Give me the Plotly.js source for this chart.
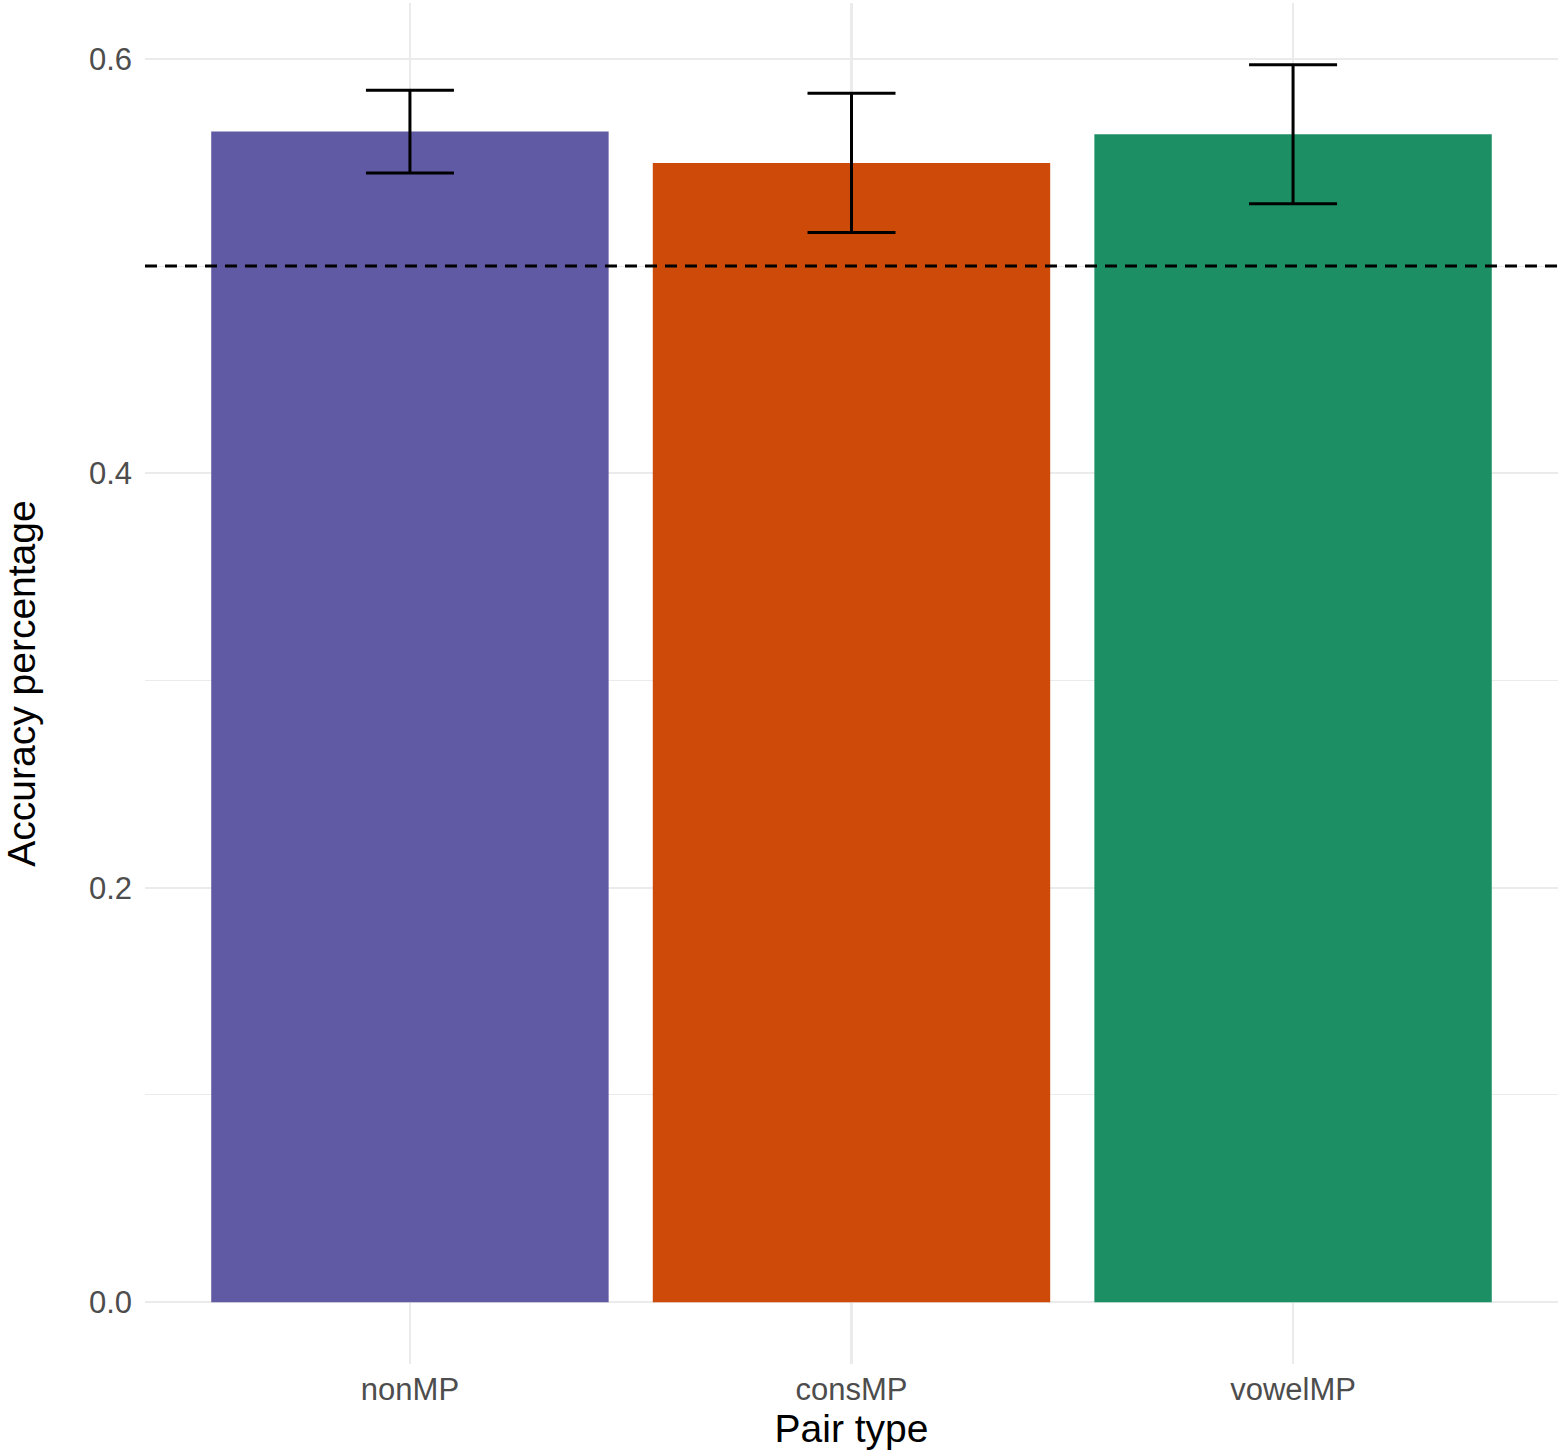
<!DOCTYPE html>
<html>
<head>
<meta charset="utf-8">
<script src="https://cdn.plot.ly/plotly-3.0.1.min.js"></script>
<style>
  html, body { margin: 0; padding: 0; background: #fff; }
  #chart { width: 1559px; height: 1452px; }
</style>
</head>
<body>
<div id="chart"></div>
<script>
var pairTypes = ["nonMP", "consMP", "vowelMP"];
var accuracy = [0.5649, 0.5498, 0.5636];
var errors = [0.0200, 0.0336, 0.0335];
var barColors = ["#6059a4", "#cd4a08", "#1d8f65"];
var chanceLevel = 0.5;
var yTicks = [0, 0.2, 0.4, 0.6];
var yTickText = ["0.0", "0.2", "0.4", "0.6"];

// ggplot style 5% expansion of the y range
var yMax = Math.max.apply(null, accuracy.map(function (d, i) { return d + errors[i]; }));
var pad = yMax * 0.05;

var dataset = [
    {
        x: pairTypes,
        y: accuracy,
        type: "bar",
        width: 0.9,
        marker: { color: barColors },
        error_y: {
            type: "data",
            array: errors,
            visible: true,
            color: "#000000",
            thickness: 3,
            width: 44,
        },
        hoverinfo: "x+y",
    },
];

var layout = {
    width: 1559,
    height: 1452,
    margin: { l: 145, r: 1, t: 3, b: 88 },
    paper_bgcolor: "#ffffff",
    plot_bgcolor: "#ffffff",
    font: { family: "Liberation Sans, Arial, sans-serif", color: "#4d4d4d" },
    showlegend: false,
    xaxis: {
        type: "category",
        range: [-0.6, 2.6],
        showgrid: true,
        gridcolor: "#ebebeb",
        gridwidth: 2.2,
        zeroline: false,
        showline: false,
        ticks: "",
        ticklabelstandoff: 4,
        tickfont: { size: 31, color: "#4d4d4d" },
        title: {
            text: "Pair type",
            font: { size: 39, color: "#000000" },
            standoff: 8,
        },
    },
    yaxis: {
        range: [-pad, yMax + pad],
        tickvals: yTicks,
        ticktext: yTickText,
        showgrid: true,
        gridcolor: "#ebebeb",
        gridwidth: 2.2,
        minor: { dtick: 0.1, showgrid: true, gridcolor: "#ebebeb", gridwidth: 1.1 },
        zeroline: false,
        showline: false,
        ticks: "",
        ticklabelstandoff: 12,
        tickfont: { size: 31, color: "#4d4d4d" },
        title: {
            text: "Accuracy percentage",
            font: { size: 39, color: "#000000" },
            standoff: 45,
        },
    },
    shapes: [
        {
            type: "line",
            xref: "paper",
            yref: "y",
            x0: 0,
            x1: 1,
            y0: chanceLevel,
            y1: chanceLevel,
            line: { color: "#000000", width: 3, dash: "12px,8px" },
        },
    ],
};

Plotly.newPlot("chart", dataset, layout, { staticPlot: true });
</script>
</body>
</html>
